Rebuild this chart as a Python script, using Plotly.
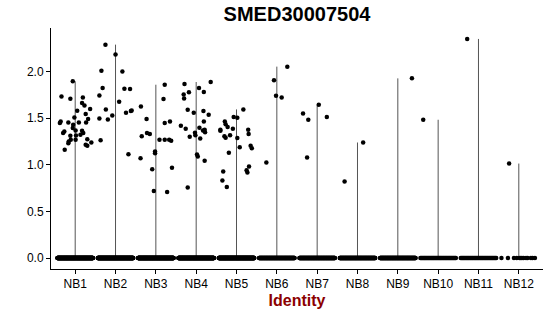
import numpy as np
import plotly.graph_objects as go

title = "SMED30007504"
categories = ["NB1", "NB2", "NB3", "NB4", "NB5", "NB6", "NB7", "NB8", "NB9", "NB10", "NB11", "NB12"]
y_ticks = [0.0, 0.5, 1.0, 1.5, 2.0]
y_ticklabels = ["0.0", "0.5", "1.0", "1.5", "2.0"]

# expressed (non-zero) cells per identity: values
expr_values = {
    "NB1": [1.896, 1.734, 1.710, 1.724, 1.663, 1.638, 1.599, 1.581, 1.545, 1.509, 1.491, 1.466, 1.448, 1.455,
            1.455, 1.455, 1.430, 1.358, 1.395, 1.369, 1.366, 1.341, 1.315, 1.312, 1.323, 1.341, 1.269, 1.276,
            1.269, 1.251, 1.233, 1.240, 1.215, 1.204, 1.161],
    "NB2": [2.290, 2.183, 2.011, 2.003, 1.824, 1.745, 1.817, 1.814, 1.595, 1.677, 1.498, 1.488, 1.530, 1.559,
            1.577, 1.265, 1.115, 1.584],
    "NB3": [1.860, 1.706, 1.627, 1.491, 1.448, 1.466, 1.308, 1.341, 1.330, 1.269, 1.269, 1.269, 1.258, 1.143,
            1.125, 1.072, 0.954, 0.968, 0.720, 0.710],
    "NB4": [1.868, 1.889, 1.825, 1.778, 1.756, 1.781, 1.713, 1.591, 1.559, 1.577, 1.538, 1.466, 1.419, 1.387,
            1.398, 1.369, 1.376, 1.351, 1.344, 1.319, 1.301, 1.283, 1.111, 1.090, 1.043, 0.756],
    "NB5": [1.595, 1.513, 1.505, 1.466, 1.437, 1.405, 1.366, 1.387, 1.376, 1.330, 1.308, 1.290, 1.319, 1.287,
            1.204, 1.179, 1.190, 1.129, 0.982, 0.943, 0.917, 0.928, 0.831, 0.763, 1.376],
    "NB6": [2.054, 1.907, 1.742, 1.724, 1.025],
    "NB7": [1.552, 1.484, 1.645, 1.513, 1.079],
    "NB8": [0.821, 1.240],
    "NB9": [1.928],
    "NB10": [1.484],
    "NB11": [2.351],
    "NB12": [1.014],
}
# horizontal jitter of those cells (fraction of a category slot)
expr_jitter = {
    "NB1": [-0.06, -0.34, -0.12, 0.19, 0.17, 0.23, 0.37, 0.05, 0.26, -0.02, 0.32, -0.36, -0.38, -0.17,
            0.09, 0.27, -0.05, -0.27, -0.06, 0.01, 0.17, 0.20, 0.02, -0.12, 0.13, -0.30, 0.01, 0.30,
            -0.11, -0.16, -0.17, 0.40, 0.26, 0.30, -0.26],
    "NB2": [-0.25, 0.00, -0.35, 0.17, -0.32, -0.40, 0.22, 0.36, -0.24, 0.09, -0.40, -0.19, -0.08, 0.26,
            0.38, -0.37, 0.32, 0.40],
    "NB3": [0.22, 0.19, -0.37, -0.23, 0.22, 0.35, -0.35, -0.22, -0.15, 0.09, 0.22, 0.33, 0.38, -0.02,
            -0.02, -0.38, -0.09, 0.40, -0.05, 0.28],
    "NB4": [-0.29, 0.36, 0.07, -0.18, -0.31, 0.19, -0.30, -0.21, -0.06, 0.18, 0.31, 0.19, -0.38, -0.26,
            0.08, 0.17, 0.21, 0.22, -0.03, -0.02, -0.16, 0.10, 0.02, 0.04, 0.21, -0.21],
    "NB5": [0.17, -0.07, 0.02, -0.29, -0.27, -0.22, -0.40, -0.09, 0.29, 0.30, -0.30, -0.27, -0.16, 0.02,
            0.35, 0.38, 0.08, -0.19, 0.31, 0.25, 0.27, -0.33, -0.35, -0.24, -0.40],
    "NB6": [0.26, -0.07, -0.02, 0.12, -0.26],
    "NB7": [-0.35, -0.22, 0.04, 0.24, -0.25],
    "NB8": [-0.32, 0.14],
    "NB9": [0.35],
    "NB10": [-0.37],
    "NB11": [-0.28],
    "NB12": [-0.24],
}
# cells with zero expression per identity
zero_counts = [300, 300, 300, 300, 300, 150, 150, 150, 150, 45, 40, 0]
nb12_zero_jitter = [-0.43, -0.27, -0.12, -0.05, 0.02, 0.05, 0.08, 0.12, 0.18, 0.22, 0.30, 0.34, 0.40]

xs, ys = [], []
line_x, line_y = [], []
for i, cat in enumerate(categories):
    pos = i + 1
    n0 = zero_counts[i]
    zj = list(np.linspace(-0.44, 0.44, n0)) if n0 > 0 else nb12_zero_jitter
    xs += [pos + j for j in zj]
    ys += [0.0] * len(zj)
    xs += [pos + j for j in expr_jitter[cat]]
    ys += expr_values[cat]
    vmax = max(expr_values[cat])
    line_x += [pos, pos, None]
    line_y += [0.0, vmax, None]

all_max = max(max(v) for v in expr_values.values())
pad = all_max * 0.05

fig = go.Figure()
fig.add_trace(go.Scatter(x=line_x, y=line_y, mode="lines",
                         line=dict(color="#555555", width=1), hoverinfo="skip", showlegend=False))
fig.add_trace(go.Scatter(x=xs, y=ys, mode="markers",
                         marker=dict(color="black", size=4.5, line=dict(width=0)),
                         showlegend=False))

fig.update_layout(
    width=550, height=316,
    margin=dict(l=51, r=7, t=28, b=47),
    paper_bgcolor="white", plot_bgcolor="white",
    font=dict(family="Liberation Sans, Arial, sans-serif", color="black", size=12),
    title=dict(text="<b>" + title + "</b>", x=(51 + 543) / 2 / 550, xanchor="center",
               y=1 - 14 / 316, yanchor="middle", font=dict(size=20, color="black")),
    xaxis=dict(range=[0.4, 12.6], tickvals=list(range(1, 13)), ticktext=categories,
               showgrid=False, zeroline=False, showline=True, linecolor="black", linewidth=1,
               ticks="outside", ticklen=4, tickcolor="black", tickfont=dict(size=12, color="black"),
               title=dict(text="<b>Identity</b>", font=dict(size=16, color="#8B0000"), standoff=4)),
    yaxis=dict(range=[-pad, all_max + pad], tickvals=y_ticks, ticktext=y_ticklabels,
               showgrid=False, zeroline=False, showline=True, linecolor="black", linewidth=1,
               ticks="outside", ticklen=4, tickcolor="black", tickfont=dict(size=12, color="black")),
)
fig.write_html("out.html")
